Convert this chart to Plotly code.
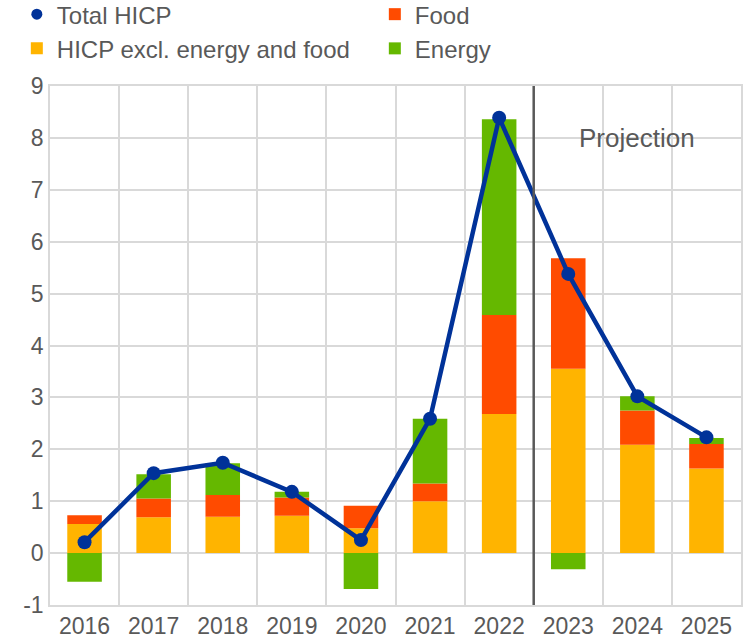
import plotly.graph_objects as go

years = ["2016", "2017", "2018", "2019", "2020", "2021", "2022", "2023", "2024", "2025"]
excl_energy_food = [0.56, 0.69, 0.70, 0.72, 0.48, 1.00, 2.68, 3.55, 2.09, 1.63]
food = [0.17, 0.36, 0.42, 0.35, 0.43, 0.34, 1.91, 2.13, 0.66, 0.47]
energy = [-0.55, 0.47, 0.61, 0.11, -0.69, 1.25, 3.77, -0.31, 0.27, 0.12]
total_hicp = [0.21, 1.54, 1.74, 1.18, 0.25, 2.59, 8.39, 5.38, 3.02, 2.23]
y_ticks = [-1, 0, 1, 2, 3, 4, 5, 6, 7, 8, 9]
y_tick_labels = ["-1", "0", "1", "2", "3", "4", "5", "6", "7", "8", "9"]

BLUE = "#003299"
YELLOW = "#FFB400"
RED = "#FF4B00"
GREEN = "#65B800"
GRID = "#d9d9d9"
TXT = "#595959"
FONT = "Liberation Sans, Arial, sans-serif"

fig = go.Figure()
fig.add_trace(go.Bar(x=years, y=excl_energy_food, name="HICP excl. energy and food",
                     marker=dict(color=YELLOW, line=dict(width=0)), width=0.5, legendrank=3))
fig.add_trace(go.Bar(x=years, y=food, name="Food",
                     marker=dict(color=RED, line=dict(width=0)), width=0.5, legendrank=2))
fig.add_trace(go.Bar(x=years, y=energy, name="Energy",
                     marker=dict(color=GREEN, line=dict(width=0)), width=0.5, legendrank=4))
fig.add_trace(go.Scatter(x=years, y=total_hicp, mode="lines+markers", name="Total HICP",
                         line=dict(color=BLUE, width=4.5), marker=dict(color=BLUE, size=14),
                         showlegend=False))
fig.add_trace(go.Scatter(x=[years[0]], y=[None], mode="markers", name="Total HICP",
                         marker=dict(color=BLUE, size=11), legendrank=1))

fig.add_shape(type="line", xref="x", yref="paper", x0=6.5, x1=6.5, y0=0, y1=1,
              line=dict(color="#595959", width=2.5))
fig.add_annotation(x=8, y=8, xref="x", yref="y", text="Projection", showarrow=False,
                   font=dict(size=26, color=TXT, family=FONT), xanchor="center", yanchor="middle")

fig.update_layout(
    width=750, height=644,
    margin=dict(l=50, r=9, t=86, b=39, autoexpand=False),
    paper_bgcolor="white", plot_bgcolor="white",
    barmode="relative", bargap=0.5,
    font=dict(family=FONT, color=TXT, size=24),
    legend=dict(orientation="h", x=-0.048, xanchor="left", y=1.181, yanchor="top",
                entrywidth=313, entrywidthmode="pixels", traceorder="normal",
                font=dict(size=24, color=TXT, family=FONT), itemwidth=30,
                tracegroupgap=0, bgcolor="rgba(0,0,0,0)"),
    showlegend=True,
)
fig.update_xaxes(type="category", range=[-0.5, 9.5], tickson="boundaries", showgrid=True,
                 gridcolor=GRID, gridwidth=1.5,
                 showline=True, linecolor=GRID, linewidth=1.5, mirror=True, ticks="",
                 automargin=False, tickfont=dict(size=23, color=TXT, family=FONT))
fig.update_yaxes(range=[-1, 9], tickvals=y_ticks, ticktext=y_tick_labels, showgrid=True,
                 gridcolor=GRID, gridwidth=1.5,
                 zeroline=True, zerolinecolor=GRID, zerolinewidth=1.5,
                 showline=True, linecolor=GRID, linewidth=1.5, mirror=True, ticks="",
                 automargin=False, tickfont=dict(size=23, color=TXT, family=FONT))

fig.write_html("out.html", config={"displayModeBar": False},
               post_script="document.body.style.margin='0';")
